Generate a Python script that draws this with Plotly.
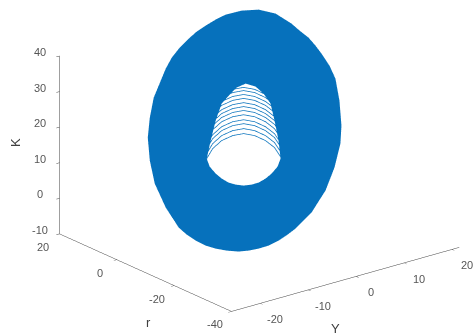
import plotly.graph_objects as go

# Outer rim of the coil, clockwise from the top
outer_Y = [12.99, 15.48, 17.43, 18.23, 19.21, 19.73, 20.09, 20.44, 20.34, 19.08, 17.19, 15.39, 12.17, 8.5, 6.26, 4.03, 1.88, -0.26, -2.23, -4.38, -6.61, -8.66, -10.63, -12.5, -14.55, -16.34, -17.85, -19.18, -20.25, -21.05, -21.57, -21.38, -20.2, -18.5, -16.34, -13.84, -11.06, -9.09, -7.02, -4.71, -2.29, -0.23, 1.91, 4.71, 7.37, 10.58]
outer_r = [15.7, 13.95, 11.65, 10.2, 8.7, 7.15, 5.65, 3.45, 1.2, -2.3, -6.15, -8.8, -12.1, -15.1, -16.4, -17.7, -18.5, -19.3, -19.8, -20.25, -20.5, -20.45, -20.25, -19.9, -19.15, -18.3, -17.35, -16.1, -14.75, -13.3, -9.65, -5.5, -1.8, 1.75, 4.65, 7.45, 9.65, 11.2, 12.55, 13.65, 14.55, 15.2, 15.65, 16.85, 17.8, 17.6]
outer_K = [39.84, 38.41, 35.69, 33.95, 32.15, 30.27, 28.43, 25.72, 22.93, 18.49, 13.57, 10.16, 5.83, 1.84, 0.08, -1.7, -2.84, -3.98, -4.75, -5.46, -5.93, -6.01, -5.9, -5.59, -4.81, -3.88, -2.81, -1.35, 0.25, 2.0, 6.49, 11.66, 16.33, 20.86, 24.61, 28.28, 31.2, 33.26, 35.08, 36.62, 37.9, 38.86, 39.56, 39.76, 39.8, 39.78]

# Rim of the hole, clockwise from the top
inner_Y = [3.84, 5.35, 6.15, 6.5, 5.69, 4.6, 3.35, 2.1, 0.4, -1.13, -2.73, -4.16, -5.68, -7.02, -8.09, -8.97, -9.6, -10.04, -9.85, -7.53, -4.84, -2.24, 0.26, 1.87]
inner_r = [4.95, 4.0, 2.55, 0.7, -2.05, -5.25, -8.05, -9.1, -9.85, -10.3, -10.55, -10.5, -10.25, -9.7, -9.05, -8.1, -7.05, -5.7, -4.35, -1.85, 0.9, 3.15, 4.2, 4.8]
inner_K = [26.41, 25.34, 23.6, 21.32, 17.86, 13.8, 10.24, 8.85, 7.79, 7.13, 6.7, 6.66, 6.87, 7.46, 8.18, 9.31, 10.57, 12.21, 13.9, 17.16, 20.78, 23.75, 25.23, 26.09]

# One turn seen through the hole, and the heights of the visible turns
turn_Y = [-9.85, -7.89, -5.56, -3.15, -1.01, 0.77, 2.28, 3.26, 3.53]
turn_r = [-4.35, -3.15, -2.4, -2.2, -2.45, -3.3, -4.6, -6.1, -7.75]
turn_K = [13.9, 15.52, 16.62, 17.04, 16.88, 15.96, 14.44, 12.66, 10.62]
turn_rise = [0, 1.4, 2.8, 3.9, 5.3, 6.5, 7.6, 8.7, 9.9, 11, 12.1, 13]

Y_ticks = [-20, -10, 0, 10, 20]
r_ticks = [-40, -20, 0, 20]
K_ticks = [-10, 0, 10, 20, 30, 40]

Y_range = [-26, 21.5]
r_range = [-40, 20]
K_range = [-10, 40]

BLUE = "#0671BC"
TEXT = "#555555"
n, m = len(outer_Y), len(inner_Y)
I, J, Kidx = [], [], []
a, b = 0, 0
while a < n or b < m:
    if b >= m or (a < n and (a + 1) / n <= (b + 1) / m):
        I.append(a); J.append((a + 1) % n); Kidx.append(n + b % m)
        a += 1
    else:
        I.append(a % n); J.append(n + (b + 1) % m); Kidx.append(n + b)
        b += 1

fig = go.Figure()
fig.add_trace(go.Mesh3d(
    x=outer_Y + inner_Y, y=outer_r + inner_r, z=outer_K + inner_K,
    i=I, j=J, k=Kidx, color=BLUE, flatshading=True,
    lighting=dict(ambient=1, diffuse=0, specular=0, roughness=1, fresnel=0),
    hoverinfo="skip", showscale=False,
))
for rise in turn_rise:
    fig.add_trace(go.Scatter3d(
        x=turn_Y, y=turn_r, z=[k + rise for k in turn_K],
        mode="lines", line=dict(color=BLUE, width=1.5),
        hoverinfo="skip", showlegend=False,
    ))

def axis(rng, ticks):
    return dict(
        title=dict(text=""),
        range=rng, tickmode="array", tickvals=ticks, showticklabels=False,
        showgrid=False, zeroline=False, showbackground=False, showspikes=False,
        showline=True, linecolor="#404040", linewidth=1,
        ticks="outside", ticklen=4, tickcolor="#404040", tickwidth=1,
        autorange=False,
    )

def tick_label(x, y, z, text, dx, dy):
    return dict(x=x, y=y, z=z, text=str(text), showarrow=False, xshift=dx, yshift=dy,
                xanchor="center", yanchor="middle",
                font=dict(family="Liberation Sans", size=11, color=TEXT))

labels = (
    [tick_label(Y_range[0], r_range[1], t, t, -20, 4) for t in K_ticks]
    + [tick_label(Y_range[0], t, K_range[0], t, -17, -13) for t in r_ticks]
    + [tick_label(t, r_range[0], K_range[0], t, 15, -16) for t in Y_ticks]
)

d = 2.0
c = (-0.1245, 0.0587, -0.0831)
fig.update_layout(
    width=474, height=333, margin=dict(l=0, r=0, t=0, b=0),
    paper_bgcolor="white", showlegend=False,
    scene=dict(
        domain=dict(x=[0, 1], y=[0, 1]),
        xaxis=axis(Y_range, Y_ticks),
        yaxis=axis(r_range, r_ticks),
        zaxis=axis(K_range, K_ticks),
        aspectmode="manual",
        aspectratio=dict(x=1.742, y=1.667, z=1.143),
        camera=dict(
            projection=dict(type="orthographic"),
            eye=dict(x=-0.579 * d + c[0], y=-0.733 * d + c[1], z=0.356 * d + c[2]),
            up=dict(x=0, y=0, z=1),
            center=dict(x=c[0], y=c[1], z=c[2]),
        ),
        annotations=labels,
    ),
    annotations=[
        dict(text="K", x=16, y=142, textangle=-90),
        dict(text="r", x=148, y=322),
        dict(text="Y", x=335, y=328),
    ],
)
for ann in fig.layout.annotations:
    ann.update(xref="paper", yref="paper", showarrow=False,
               x=ann.x / 474, y=1 - ann.y / 333, xanchor="center", yanchor="middle",
               font=dict(family="Liberation Sans", size=13, color="#404040"))
fig.write_html("out.html", config=dict(displayModeBar=False),
               post_script="document.body.style.margin='0';")
